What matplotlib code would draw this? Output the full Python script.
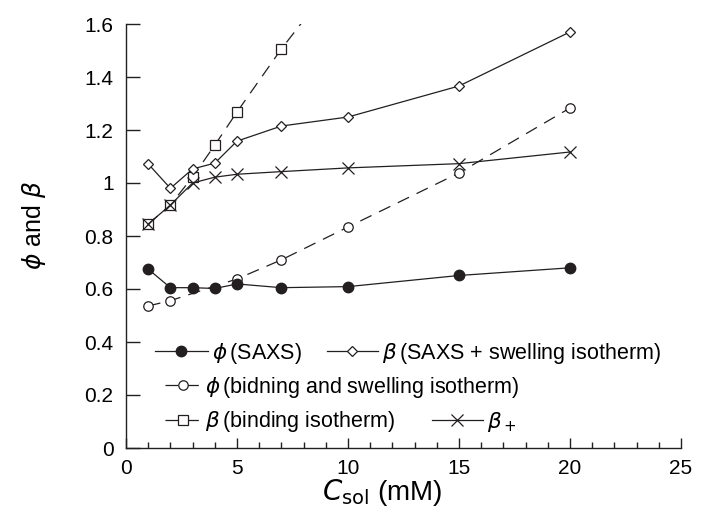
import matplotlib
matplotlib.use("Agg")
import matplotlib.pyplot as plt
from matplotlib.ticker import MultipleLocator, FuncFormatter

plt.rcParams['font.family'] = ['Liberation Sans', 'DejaVu Sans']
plt.rcParams['mathtext.fontset'] = 'dejavusans'
plt.rcParams['lines.scale_dashes'] = False

# Data
x_saxs = [1, 2, 3, 4, 5, 7, 10, 15, 20]
phi_saxs = [0.675, 0.605, 0.605, 0.602, 0.619, 0.605, 0.609, 0.651, 0.680]
beta_saxs_swell = [1.072, 0.980, 1.053, 1.075, 1.158, 1.215, 1.249, 1.366, 1.570]

x_phi_bind = [1, 2, 5, 7, 10, 15, 20]
phi_bind_swell = [0.536, 0.556, 0.638, 0.710, 0.834, 1.038, 1.283]

x_beta_bind = [1, 2, 3, 4, 5, 7, 10]
beta_bind = [0.845, 0.917, 1.023, 1.143, 1.268, 1.506, 1.83]

x_beta_plus = [1, 2, 3, 4, 5, 7, 10, 15, 20]
beta_plus = [0.845, 0.917, 1.000, 1.022, 1.033, 1.043, 1.057, 1.073, 1.117]

labels = [r'$\phi\,$(SAXS)', r'$\beta\,$(SAXS + swelling isotherm)',
          r'$\phi\,$(bidning and swelling isotherm)', r'$\beta\,$(binding isotherm)',
          r'$\beta_+$']

W, H = 708, 525
fig = plt.figure(figsize=(W / 100, H / 100), dpi=100)
ax = fig.add_axes([126 / W, 77 / H, 555 / W, 424 / H])

lw = 0.9
dash = (0, (9, 6))
c = '#231f20'

l_sq, = ax.plot(x_beta_bind, beta_bind, linestyle=dash, color=c, lw=lw, marker='s',
                ms=7.5, mfc='white', mec=c, mew=0.9, zorder=3)
l_oc, = ax.plot(x_phi_bind, phi_bind_swell, linestyle=dash, color=c, lw=lw, marker='o',
                ms=6.8, mfc='white', mec=c, mew=0.9, zorder=3)
l_x, = ax.plot(x_beta_plus, beta_plus, '-', color=c, lw=lw, marker='x',
               ms=8, mec=c, mew=0.9, zorder=4)
l_dm, = ax.plot(x_saxs, beta_saxs_swell, '-', color=c, lw=lw, marker='D',
                ms=5, mfc='white', mec=c, mew=0.9, zorder=4)
l_fc, = ax.plot(x_saxs, phi_saxs, '-', color=c, lw=lw, marker='o',
                ms=7.5, mfc=c, mec=c, zorder=5)

ax.set_xlim(0, 25)
ax.set_ylim(0, 1.6)
ax.spines['top'].set_visible(False)
ax.spines['right'].set_visible(False)
for s in ('left', 'bottom'):
    ax.spines[s].set_linewidth(1.0)
    ax.spines[s].set_color(c)

ax.xaxis.set_major_locator(MultipleLocator(5))
ax.xaxis.set_minor_locator(MultipleLocator(1))
ax.yaxis.set_major_locator(MultipleLocator(0.2))
fmt = FuncFormatter(lambda v, p: ('%g' % round(v, 2)))
ax.yaxis.set_major_formatter(fmt)
ax.tick_params(axis='x', which='major', direction='in', length=7, width=1, labelsize=15, pad=8, color=c)
ax.tick_params(axis='x', which='minor', direction='in', length=4, width=1, color=c)
ax.tick_params(axis='y', which='major', direction='in', length=10, width=1, labelsize=15, pad=9, color=c)

ax.set_xlabel(r'$C_{\mathrm{sol}}$ (mM)', fontsize=20)
ax.xaxis.set_label_coords((382 - 126) / 555, -(492 - 448) / 424, transform=ax.transAxes)
ax.xaxis.label.set_va('center')
ax.set_ylabel(r'$\phi$ and $\beta$', fontsize=18)
ax.yaxis.set_label_coords(-(126 - 34) / 555, (448 - 225) / 424, transform=ax.transAxes)
ax.yaxis.label.set_va('center')

leg_kw = dict(frameon=False, fontsize=15.5, borderpad=0, borderaxespad=0,
              handletextpad=0.2, loc='center left', numpoints=1)

def px2ax(xp, yp):
    return ((xp - 126) / 555, (448 - yp) / 424)

entries = [
    (l_fc, labels[0], 155, 353, 2.45),
    (l_dm, labels[1], 327, 353, 2.35),
    (l_oc, labels[2], 165, 387, 1.65),
    (l_sq, labels[3], 165, 422, 1.65),
    (l_x, labels[4], 432, 422, 2.35),
]
for i, (h, lab, xp, yp, hl) in enumerate(entries):
    lg = ax.legend([h], [lab], bbox_to_anchor=px2ax(xp, yp), handlelength=hl, **leg_kw)
    if i < len(entries) - 1:
        ax.add_artist(lg)

fig.savefig('out.png', dpi=100)
